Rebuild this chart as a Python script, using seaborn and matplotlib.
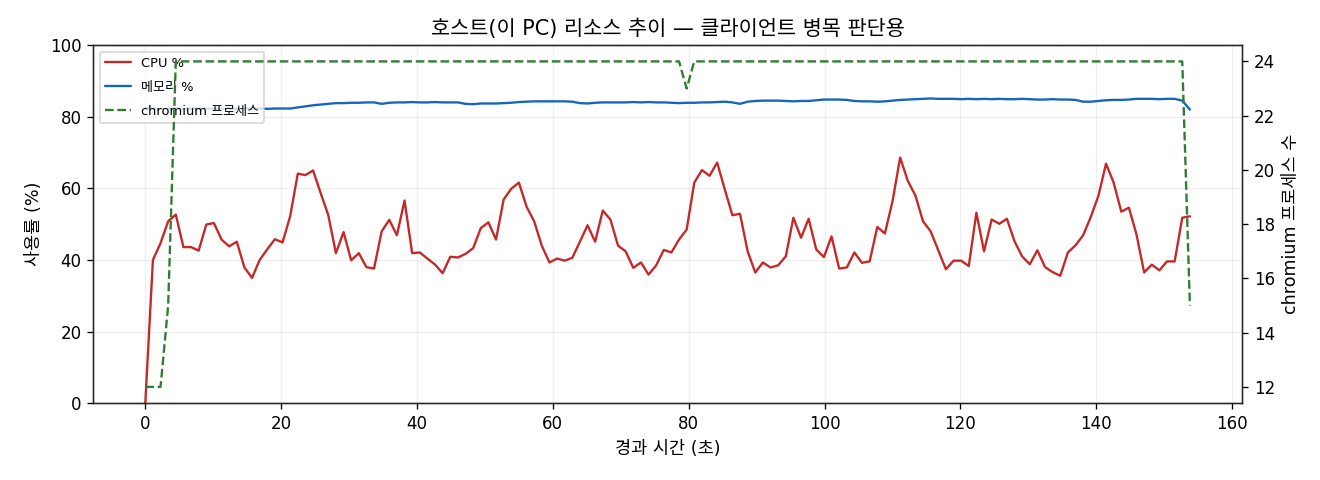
import numpy as np
import matplotlib
matplotlib.use("Agg")
import matplotlib.pyplot as plt
import seaborn as sns

SAMPLE_SEC = 1.1226

cpu_pct = [
    0.0, 40.0, 44.7, 50.8, 52.7, 43.6, 43.6, 42.6, 49.9, 50.3,
    45.7, 43.8, 45.1, 37.9, 35.0, 40.0, 43.0, 45.8, 44.9, 52.2,
    64.1, 63.7, 65.0, 58.7, 52.5, 41.9, 47.8, 39.9, 41.9, 38.0,
    37.6, 48.0, 51.2, 46.9, 56.6, 41.9, 42.1, 40.4, 38.7, 36.3,
    40.9, 40.7, 41.7, 43.3, 48.9, 50.5, 45.7, 56.9, 59.9, 61.6,
    54.9, 50.8, 44.0, 39.3, 40.4, 39.8, 40.6, 45.1, 49.7, 45.1,
    53.8, 51.3, 44.0, 42.4, 37.8, 39.3, 35.9, 38.5, 42.8, 42.1,
    45.7, 48.5, 61.6, 65.1, 63.5, 67.2, 59.7, 52.5, 52.9, 42.4,
    36.5, 39.3, 37.9, 38.5, 41.0, 51.8, 46.2, 51.5, 42.9, 40.8,
    46.6, 37.6, 37.9, 42.1, 39.2, 39.6, 49.2, 47.4, 56.4, 68.6,
    62.1, 58.0, 50.8, 48.0, 42.7, 37.4, 39.8, 39.8, 38.3, 53.2,
    42.4, 51.3, 50.1, 51.5, 45.2, 41.0, 38.8, 42.7, 38.0, 36.6,
    35.6, 42.1, 44.1, 46.9, 52.0, 57.9, 66.9, 61.6, 53.5, 54.6,
    47.1, 36.5, 38.7, 37.1, 39.6, 39.6, 51.8, 52.2,
]

mem_pct = [
    82.3, 82.3, 82.2, 82.3, 82.3, 82.2, 82.3, 82.3, 82.3, 82.2,
    82.3, 82.3, 82.2, 82.3, 82.3, 82.3, 82.2, 82.3, 82.3, 82.3,
    82.6, 82.9, 83.2, 83.4, 83.6, 83.8, 83.8,
    83.9, 83.9, 84.0, 84.0, 83.6, 83.9, 84.0, 84.0, 84.1, 84.0,
    84.0, 84.1, 84.0, 84.0, 84.0, 83.6, 83.5, 83.7, 83.7, 83.7,
    83.8, 83.9, 84.1, 84.2, 84.3, 84.3, 84.3, 84.3, 84.3, 84.2,
    83.8, 83.7, 83.9, 84.0, 84.0, 84.0, 84.0, 84.1, 84.0, 84.1,
    84.0, 84.0, 83.9, 83.8, 83.9, 83.9, 84.0, 84.0, 84.1, 84.2,
    84.0, 83.6, 84.2, 84.4, 84.5, 84.5, 84.5, 84.4, 84.3, 84.4,
    84.4, 84.6, 84.8, 84.8, 84.8, 84.7, 84.4, 84.3, 84.3, 84.2,
    84.3, 84.5, 84.7, 84.8, 84.9, 85.0, 85.1, 85.0, 85.0, 85.0,
    84.9, 85.0, 84.9, 85.0, 84.9, 85.0, 84.9, 84.9, 85.0, 84.9,
    84.8, 84.8, 84.9, 84.8, 84.8, 84.7, 84.2, 84.2, 84.4, 84.6,
    84.7, 84.7, 84.8, 85.0, 85.0, 85.0, 84.9, 85.0, 85.0, 84.5,
    82.0,
]

chromium_procs = [12, 12, 12, 15] + [24] * 67 + [23] + [24] * 65 + [15]

elapsed = np.arange(len(cpu_pct)) * SAMPLE_SEC

sns.set_style("ticks")
plt.rcParams['font.family'] = ['DejaVu Sans', 'Noto Sans CJK KR']
plt.rcParams['axes.unicode_minus'] = False
plt.rcParams['xtick.color'] = 'black'
plt.rcParams['ytick.color'] = 'black'
plt.rcParams['text.color'] = 'black'
plt.rcParams['axes.labelcolor'] = 'black'

fig, ax1 = plt.subplots(figsize=(11, 4), dpi=120)
ax2 = ax1.twinx()

sns.lineplot(x=elapsed, y=cpu_pct, ax=ax1, color="#c62828", linewidth=1.4, legend=False)
sns.lineplot(x=elapsed, y=mem_pct, ax=ax1, color="#1565c0", linewidth=1.4, legend=False)
sns.lineplot(x=elapsed, y=chromium_procs, ax=ax2, color="#2e7d32", linewidth=1.4,
             linestyle="--", legend=False)

ax1.set_ylim(0, 100)
ax1.set_xlabel("경과 시간 (초)", fontsize=10.5)
ax1.set_ylabel("사용률 (%)", fontsize=10.5)
ax2.set_ylabel("chromium 프로세스 수", fontsize=10.5)
ax1.set_title("호스트(이 PC) 리소스 추이 — 클라이언트 병목 판단용", fontsize=12.5)
ax1.tick_params(labelsize=10)
ax2.tick_params(labelsize=10)
ax1.grid(True, alpha=0.3)

handles = ax1.get_lines()[:2] + ax2.get_lines()[:1]
labels = ["CPU %", "메모리 %", "chromium 프로세스"]
ax1.legend(handles, labels, loc="upper left", fontsize=7.8, labelspacing=0.85)

fig.subplots_adjust(left=0.0705, right=0.941, top=0.906, bottom=0.160)
fig.savefig("out.png")
plt.close("all")
